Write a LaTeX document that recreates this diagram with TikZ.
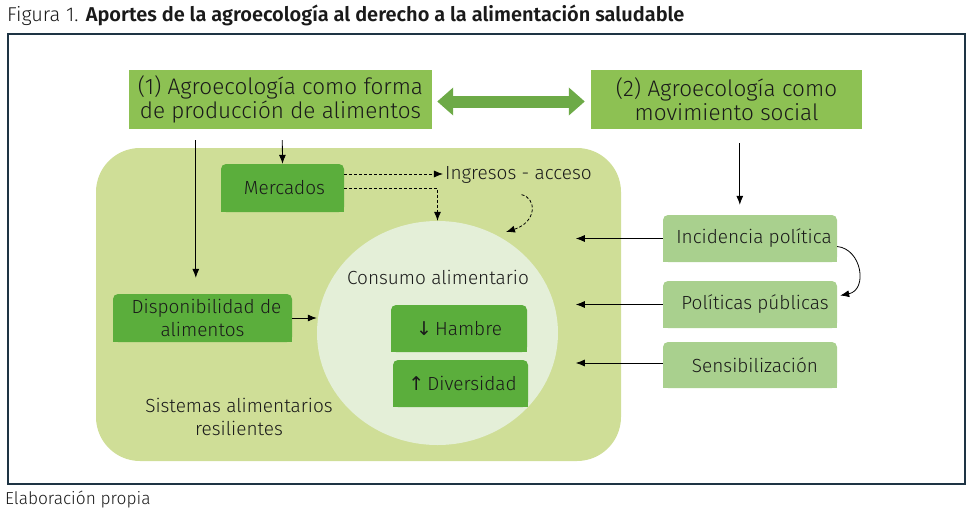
\documentclass[tikz,border=0pt]{standalone}
\usepackage{fontspec}
\setmainfont{Fira Sans Light}[BoldFont=Fira Sans SemiBold]
\newfontfamily\symf{DejaVu Sans}
\usetikzlibrary{arrows.meta,shapes.geometric,calc}
\pgfdeclarelayer{bg}
\pgfdeclarelayer{mid}
\pgfsetlayers{bg,mid,main}
\definecolor{framec}{HTML}{1E3444}
\definecolor{midg}{HTML}{8DC153}
\definecolor{dkg}{HTML}{5BAE3C}
\definecolor{ltg}{HTML}{A9D08E}
\definecolor{sysg}{HTML}{CFDE97}
\definecolor{circc}{HTML}{E4EFD8}
\definecolor{dblg}{HTML}{6DAA47}
\definecolor{txt}{HTML}{1A1A1A}
\begin{document}
\begin{tikzpicture}[x=1pt,y=-1pt,
  every node/.style={text=txt},
  mainbox/.style={fill=midg, inner sep=0pt, align=center, font=\fontsize{22.5}{24}\selectfont},
  darkbox/.style={fill=dkg, rounded corners=5pt, inner sep=0pt, align=center, font=\fontsize{19}{23}\selectfont},
  lightbox/.style={fill=ltg, rounded corners=5pt, inner sep=0pt, align=center, font=\fontsize{19}{23}\selectfont, minimum width=174pt},
  plain/.style={inner sep=2pt, align=center, font=\fontsize{19}{23}\selectfont},
  arr/.style={draw=black, line width=0.8pt, -{Latex[length=9pt 0,width=7pt 0]}},
  dasharr/.style={arr, dashed, dash pattern=on 3pt off 2pt}]
\useasboundingbox (0,0) rectangle (970,514);

% title and source
\node[anchor=base west, inner sep=0pt, font=\fontsize{20}{22}\selectfont] (title) at (7,21)
  {Figura 1. \textbf{Aportes de la agroecología al derecho a la alimentación saludable}};
\node[anchor=base west, inner sep=0pt, font=\fontsize{17.3}{18}\selectfont] (source) at (5,504) {Elaboración propia};

% frame
\draw[framec, line width=2pt] (8,34) rectangle (965,484);

% background shapes
\begin{pgfonlayer}{bg}
  \node[fill=sysg, rounded corners=44pt, minimum width=525pt, minimum height=313pt, inner sep=0pt] (sis) at (358.5,304.5) {};
  \node[ellipse, fill=circc, minimum width=241pt, minimum height=224pt, inner sep=0pt] (cons) at (437.5,333) {};
\end{pgfonlayer}

% top boxes
\node[mainbox, minimum width=303pt, minimum height=59pt] (p1) at (280.5,99.5) {(1) Agroecología como forma\\de producción de alimentos};
\node[mainbox, minimum width=271pt, minimum height=59pt] (p2) at (726.5,99.5) {(2) Agroecología como\\movimiento social};

% inner boxes
\node[darkbox, minimum width=123pt, minimum height=48pt] (mer) at (282.5,188) {\hspace*{4pt}Mercados};
\node[darkbox, minimum width=179pt, minimum height=48pt] (disp) at (202.5,318) {\hspace*{8pt}Disponibilidad de\\alimentos};
\node[darkbox, minimum width=136pt, minimum height=47pt] (ham) at (459,328.5) {{\symf ↓}\,Hambre};
\node[darkbox, minimum width=135pt, minimum height=47pt] (div) at (460.5,383.5) {\hspace*{4pt}{\symf ↑}\,Diversidad};

% right boxes
\node[lightbox, minimum height=47pt] (inc) at (750,238.5) {\hspace*{8pt}Incidencia política};
\node[lightbox, minimum height=47pt] (pol) at (750,304.5) {\hspace*{10pt}Políticas públicas};
\node[lightbox, minimum height=46pt] (sen) at (750,365) {\hspace*{10pt}Sensibilización};

% square bottom corners
\begin{pgfonlayer}{mid}
  \foreach \n/\c in {mer/dkg,disp/dkg,ham/dkg,div/dkg,inc/ltg,pol/ltg,sen/ltg}
    \fill[\c] (\n.west) rectangle (\n.south east);
\end{pgfonlayer}

% texts
\node[plain] (ing) at (518.5,175) {Ingresos - acceso};
\node[plain] (constxt) at (438,277) {Consumo alimentario};
\node[plain] (sistxt) at (239,417) {Sistemas alimentarios\\resilientes};

% double arrow
\draw[dblg, line width=12pt, {Triangle[length=16pt 0,width=27pt 0]}-{Triangle[length=16pt 0,width=27pt 0]},
  shorten <=5pt, shorten >=6pt] ([yshift=-2pt]p1.east) -- ([yshift=-2pt]p2.west);

% solid arrows
\draw[arr] ($(p1.south west)+(67,11)$) -- ($(disp.north west)+(83,-16)$);
\draw[arr] ($(p1.south west)+(153.5,11)$) -- (mer.north);
\draw[arr] ($(p2.south west)+(149,14)$) -- ($(inc.north west)+(77,-10)$);
\draw[arr] (disp.east) -- (cons.west |- disp.east);
\draw[arr] (inc.west) -- ([xshift=-87pt]inc.west);
\draw[arr] (pol.west) -- ([xshift=-87pt]pol.west);
\draw[arr] ([yshift=2pt]sen.west) -- ([xshift=-87pt,yshift=2pt]sen.west);
\draw[arr] ([yshift=-8pt]inc.east) .. controls (862,249) and (868,290) .. ([xshift=3pt,yshift=9pt]pol.east);

% dashed arrows
\draw[dasharr] ([yshift=14pt]mer.east) -- ([yshift=14pt]mer.east -| ing.west);
\draw[dasharr] (mer.east) -| (cons.north);
\coordinate (ingend) at (506,232);
\draw[dasharr] ([xshift=3pt,yshift=-9pt]ing.south) .. controls (537,198) and (537,222) .. (ingend);
\end{tikzpicture}
\end{document}
